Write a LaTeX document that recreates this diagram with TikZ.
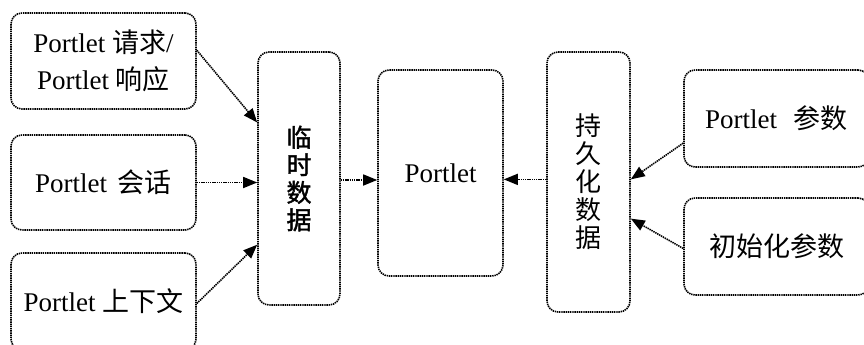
\documentclass[tikz,border=0pt]{standalone}
\usepackage{fontspec}
\setmainfont{Liberation Serif}
\newfontfamily\cjk{Noto Sans CJK SC}
\newfontfamily\cjkb[FakeBold=1.5]{Noto Sans CJK SC}
\usetikzlibrary{arrows.meta,calc}
\tikzset{
 dotline/.style={dash pattern=on 1.4pt off 0.8pt, line width=1.6pt},
 box/.style={draw, dotline, rounded corners=11pt, inner sep=0pt, align=center, font=\fontsize{27}{37}\selectfont},
 vbox/.style={box, font=\cjk\fontsize{25}{27.5}\selectfont},
 conn/.style={dotline, -{Triangle[length=14pt,width=11pt]}},
}
\begin{document}
\begin{tikzpicture}[x=1pt,y=-1pt]
\useasboundingbox (0,0) rectangle (864,345);
\node[box, minimum width=185pt, minimum height=96pt] (req) at (103.5,61) {Portlet {\cjk 请求}/\\Portlet {\cjk 响应}};
\node[box, minimum width=185pt, minimum height=95pt] (ses) at (103.5,182.5) {Portlet\hspace{4pt} {\cjk 会话}};
\node[box, minimum width=185pt, minimum height=97pt] (ctx) at (103.5,301.5) {Portlet {\cjk 上下文}};
\node[vbox, font=\cjkb\fontsize{25}{27.5}\selectfont, minimum width=82pt, minimum height=253pt] (tmp) at (299,178.5) {临\\时\\数\\据};
\node[box, minimum width=125pt, minimum height=206pt] (por) at (440.5,173) {\raisebox{-4pt}{Portlet}};
\node[vbox, font=\cjk\fontsize{26}{28}\selectfont, minimum width=83pt, minimum height=260pt] (per) at (588.5,182) {持\\久\\化\\数\\据};
\node[box, minimum width=185pt, minimum height=97pt] (par) at (776.5,118.5) {Portlet\hspace{10pt} {\cjk 参数}};
\node[box, minimum width=185pt, minimum height=97pt] (ini) at (776.5,246.5) {\cjk 初始化参数};
\coordinate (pa) at ($(por.west)+(0,7)$);
\coordinate (pb) at ($(per.north west)!0.49!(per.south west)$);
\draw[conn] ($(req.north east)!0.39!(req.south east)$) -- ($(tmp.north west)!0.28!(tmp.south west)$);
\draw[conn] (ses.east) -- (ses.east -| tmp.west);
\draw[conn] ($(ctx.north east)!0.52!(ctx.south east)$) -- ($(tmp.north west)!0.76!(tmp.south west)$);
\draw[conn] (tmp.east |- pa) -- (pa);
\draw[conn] (pb) -- (por.east |- pb);
\draw[conn] ($(par.north west)!0.75!(par.south west)$) -- ($(per.north east)!0.49!(per.south east)$);
\draw[conn] ($(ini.north west)!0.52!(ini.south west)$) -- ($(per.north east)!0.64!(per.south east)$);
\end{tikzpicture}
\end{document}
